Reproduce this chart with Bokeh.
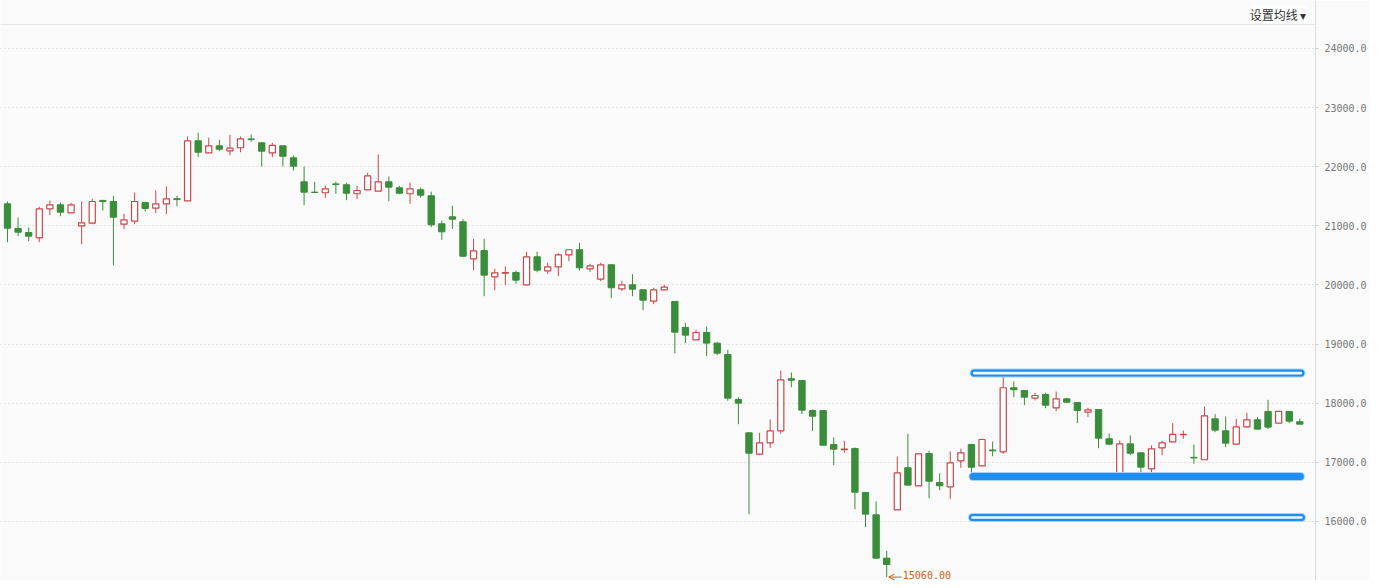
from bokeh.plotting import figure
from bokeh.models import Range1d, FixedTicker, PrintfTickFormatter, Span, Label, ColumnDataSource, Arrow, OpenHead
from bokeh.embed import file_html
from bokeh.resources import INLINE
from bokeh.core.properties import value

opens = [21373, 20956, 20888, 20798, 21289, 21356, 21221, 21001, 21045, 21430,
         21412, 21028, 21079, 21395, 21300, 21373, 21460, 21424, 22439, 22236,
         22354, 22270, 22321, 22470, 22405, 22236, 22354, 22151, 21745, 21570,
         21560, 21710, 21695, 21543, 21610, 21587, 21745, 21644, 21543, 21610,
         21509, 21035, 21153, 21069, 20443, 20584, 20139, 20200, 20212, 20003,
         20477, 20240, 20308, 20511, 20596, 20274, 20099, 20342, 19936, 20003,
         19919, 19726, 19919, 19721, 19282, 19073, 19197, 19017, 18825, 18064,
         17500, 17138, 17331, 17534, 18415, 18385, 17877, 17877, 17302, 17215,
         17235, 16491, 16113, 15380, 16198, 16909, 16604, 17150, 16660, 16587,
         17027, 17302, 16942, 17210, 17179, 18262, 18216, 18087, 18148, 17923,
         18075, 18013, 17849, 17894, 17399, 16818, 17314, 17162, 16891, 17246,
         17348, 17470, 17085, 17044, 17737, 17534, 17308, 17602, 17720, 17861,
         17664, 17861, 17687]
highs = [21412, 21142, 20973, 21323, 21429, 21395, 21390, 21412, 21458, 21440,
         21509, 21204, 21564, 21407, 21598, 21666, 21509, 22512, 22574, 22490,
         22456, 22540, 22512, 22546, 22411, 22405, 22354, 22190, 22004, 21745,
         21683, 21745, 21728, 21678, 21898, 22207, 21835, 21678, 21734, 21649,
         21581, 21091, 21340, 21113, 20781, 20781, 20274, 20313, 20245, 20562,
         20562, 20375, 20538, 20596, 20714, 20358, 20375, 20342, 20071, 20183,
         19919, 19953, 20003, 19721, 19361, 19242, 19298, 19034, 18904, 18098,
         17500, 17500, 17725, 18554, 18520, 18385, 17894, 17877, 17421, 17365,
         17252, 16491, 16338, 15505, 17100, 17483, 17145, 17196, 16817, 17184,
         17230, 17314, 17399, 17353, 18515, 18368, 18216, 18177, 18177, 18199,
         18092, 18013, 17923, 17894, 17488, 17370, 17455, 17162, 17286, 17365,
         17663, 17539, 17302, 17945, 17815, 17776, 17737, 17838, 17765, 18058,
         17861, 17861, 17742]
lows = [20724, 20826, 20741, 20724, 21181, 21164, 21221, 20690, 21028, 21260,
        20330, 20944, 21028, 21243, 21215, 21198, 21333, 21424, 22162, 22236,
        22263, 22195, 22246, 22422, 22004, 22162, 22004, 21937, 21350, 21560,
        21475, 21543, 21435, 21452, 21610, 21587, 21417, 21536, 21373, 21475,
        20978, 20765, 20950, 20470, 20250, 19811, 19912, 20003, 20020, 20003,
        20217, 20189, 20149, 20403, 20245, 20223, 20065, 19777, 19902, 19811,
        19574, 19676, 19919, 18847, 19017, 19073, 18796, 18813, 18041, 17646,
        16124, 17121, 17246, 17483, 18272, 17815, 17528, 17290, 16953, 17162,
        16208, 15904, 15369, 15060, 16198, 16615, 16604, 16394, 16530, 16378,
        16908, 16750, 16942, 17104, 17145, 18103, 17967, 18047, 17916, 17866,
        18001, 17663, 17765, 17240, 17291, 16818, 17121, 16834, 16807, 17121,
        17348, 17399, 16976, 17044, 17511, 17257, 17298, 17585, 17562, 17562,
        17664, 17663, 17646]
closes = [20961, 20893, 20826, 21289, 21356, 21232, 21356, 21052, 21412, 21410,
          21147, 21103, 21412, 21294, 21373, 21458, 21445, 22439, 22246, 22354,
          22297, 22314, 22473, 22460, 22263, 22360, 22178, 22010, 21570, 21565,
          21627, 21700, 21553, 21598, 21847, 21745, 21655, 21553, 21627, 21519,
          21018, 20900, 21113, 20487, 20578, 20166, 20206, 20210, 20082, 20477,
          20251, 20308, 20511, 20596, 20291, 20325, 20342, 19953, 20003, 19929,
          19743, 19919, 19963, 19202, 19152, 19197, 19017, 18847, 18086, 18002,
          17155, 17331, 17534, 18397, 18390, 17883, 17781, 17290, 17223, 17225,
          16496, 16124, 15380, 15273, 16824, 16615, 17145, 16682, 16604, 16993,
          17162, 16918, 17387, 17195, 18262, 18228, 18103, 18131, 17967, 18075,
          18018, 17877, 17889, 17409, 17308, 17314, 17155, 16919, 17230, 17331,
          17472, 17475, 17075, 17788, 17545, 17325, 17602, 17720, 17562, 17596,
          17861, 17697, 17646]

y_ticks = [16000, 17000, 18000, 19000, 20000, 21000, 22000, 23000, 24000]

# horizontal drawn levels (price, hollow style, start index, end index)
level_prices = [18510, 16762, 16068]
level_hollow = [True, False, True]
level_x0 = [91.25, 91.15, 91.1]
level_x1 = [122.1, 122.05, 122.15]

low_mark_text = "15060.00"
header_text = "设置均线 ▾"

RED = "#c9474a"
GREEN = "#3a8d3a"
BG = "#fafafa"
ORANGE = "#c8641e"

n = len(opens)
idx = list(range(n))
up = [c >= o for o, c in zip(opens, closes)]
cols = [RED if u else GREEN for u in up]

y_lo, y_hi = 15002.1, 24811.8
x_lo, x_hi = -0.66, 123.48

p = figure(width=1369, height=580, x_range=Range1d(x_lo, x_hi), y_range=Range1d(y_lo, y_hi),
           output_backend="svg", toolbar_location=None, y_axis_location="right",
           x_axis_location=None, min_border_left=0, min_border_top=0,
           min_border_bottom=0, min_border_right=52,
           background_fill_color=BG, border_fill_color=BG, outline_line_color=None)

p.xgrid.visible = False
p.ygrid.ticker = FixedTicker(ticks=y_ticks)
p.ygrid.grid_line_color = "#cccccc"
p.ygrid.grid_line_dash = "1 3"
p.ygrid.grid_line_width = 1

ax = p.yaxis[0]
ax.ticker = FixedTicker(ticks=y_ticks)
ax.formatter = PrintfTickFormatter(format="%.1f")
ax.axis_line_color = "#dddddd"
ax.major_tick_line_color = "#cccccc"
ax.major_tick_out = 3
ax.major_tick_in = 0
ax.minor_tick_line_color = None
ax.major_label_standoff = 6
ax.major_label_text_font = "DejaVu Sans Mono"
ax.major_label_text_font_size = "10px"
ax.major_label_text_color = "#777777"

# header separator
p.add_layout(Span(location=24406, dimension="width", line_color="#e6e6e6", line_width=1))

src = ColumnDataSource(dict(x=idx, l=lows, h=highs, col=cols))
p.segment(x0="x", y0="l", x1="x", y1="h", line_color="col", line_width=1, source=src)

up_src = ColumnDataSource(dict(x=[i for i in idx if up[i]],
                               top=[max(opens[i], closes[i]) for i in idx if up[i]],
                               bot=[min(opens[i], closes[i]) for i in idx if up[i]]))
dn_src = ColumnDataSource(dict(x=[i for i in idx if not up[i]],
                               top=[max(opens[i], closes[i]) for i in idx if not up[i]],
                               bot=[min(opens[i], closes[i]) for i in idx if not up[i]]))
p.vbar(x="x", width=0.58, top="top", bottom="bot", fill_color="#ffffff",
       line_color=RED, line_width=1.2, source=up_src)
p.vbar(x="x", width=0.6, top="top", bottom="bot", fill_color=GREEN,
       line_color=GREEN, line_width=1, source=dn_src)

# drawn horizontal levels
for price, hollow, x0, x1 in zip(level_prices, level_hollow, level_x0, level_x1):
    p.segment(x0=[x0], y0=[price], x1=[x1], y1=[price], line_color="#a6d3f7",
              line_width=9, line_cap="round")
    p.segment(x0=[x0], y0=[price], x1=[x1], y1=[price], line_color="#1e8ef0",
              line_width=7, line_cap="round")
    if hollow:
        p.segment(x0=[x0], y0=[price], x1=[x1], y1=[price], line_color="#f2f8ff",
                  line_width=2.6, line_cap="round")

# lowest point marker
imin = lows.index(min(lows))
lowest = min(lows)
p.add_layout(Arrow(end=OpenHead(size=6, line_color=ORANGE, line_width=1),
                   x_start=imin + 1.42, y_start=lowest, x_end=imin + 0.18, y_end=lowest,
                   line_color=ORANGE, line_width=1))
p.text(x=[imin + 1.52], y=[lowest], text=[low_mark_text], text_color=ORANGE,
       text_font=value("DejaVu Sans Mono"), text_font_size="10px",
       text_baseline="middle", text_align="left", y_offset=-2)

p.add_layout(Label(x=122.63, y=24575, text=header_text, text_font="Noto Sans CJK SC",
                   text_font_size="12px", text_color="#333333",
                   text_align="right", text_baseline="middle",
                   background_fill_color="#ffffff"))

open("out.html", "w").write(file_html(p, INLINE))
